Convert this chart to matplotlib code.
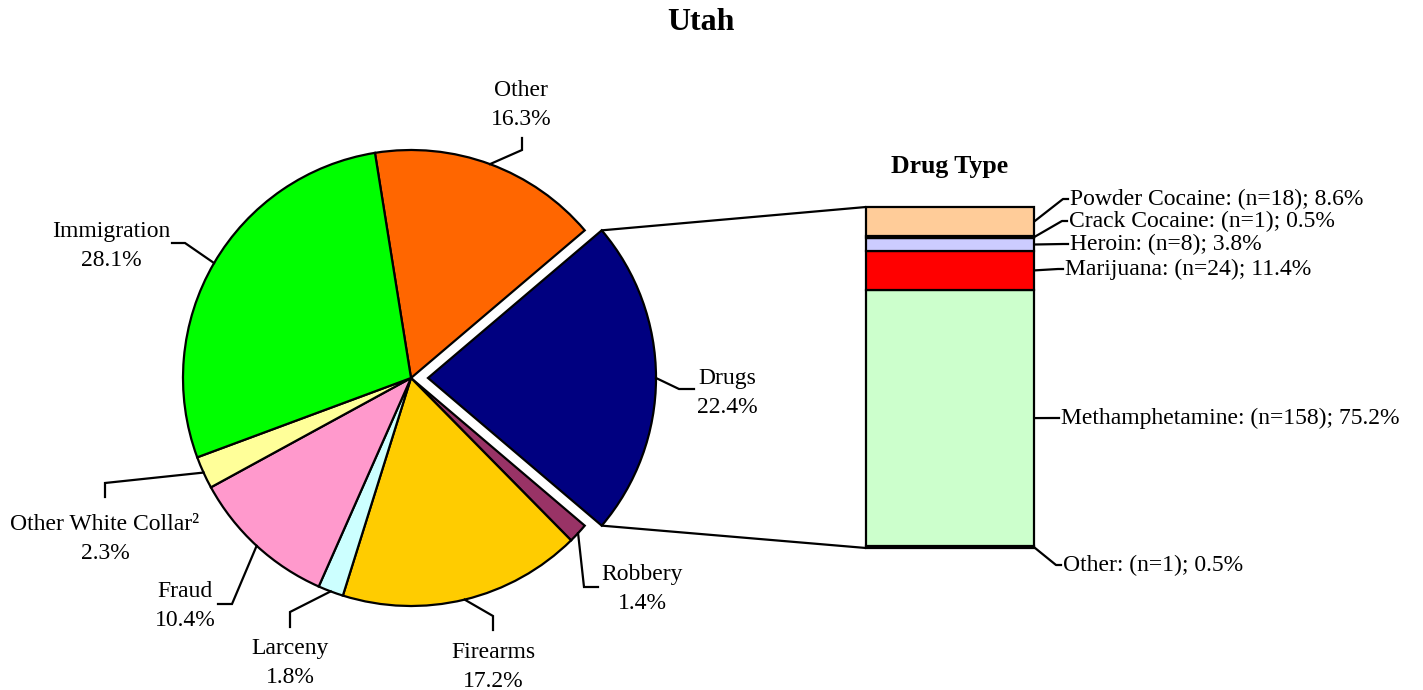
import numpy as np
import matplotlib
matplotlib.use("Agg")
import matplotlib.pyplot as plt
from matplotlib.patches import ConnectionPatch

# ---------------- data ----------------
pie_labels = ["Other", "Drugs", "Robbery", "Firearms", "Larceny", "Fraud",
              "Other White Collar²", "Immigration"]
pie_values = [16.3, 22.4, 1.4, 17.2, 1.8, 10.4, 2.3, 28.1]
pie_colors = ["#FF6600", "#000080", "#993366", "#FFCC00", "#CCFFFF", "#FF99CC",
              "#FFFF99", "#00FF00"]

drug_labels = ["Other", "Methamphetamine", "Marijuana", "Heroin", "Crack Cocaine",
               "Powder Cocaine"]
drug_counts = [1, 158, 24, 8, 1, 18]
drug_pcts = [0.5, 75.2, 11.4, 3.8, 0.5, 8.6]
drug_colors = ["#000000", "#CCFFCC", "#FF0000", "#CCCCFF", "#000000", "#FFCC99"]

# ---------------- layout ----------------
W, H = 1423, 690
plt.rcParams['font.family'] = ['Liberation Serif', 'DejaVu Serif']
FS = 17

fig = plt.figure(figsize=(W / 100, H / 100), dpi=100)
ax = fig.add_axes([0, 0, 1, 1])


def py(y):
    return H - y


cx, cy, R = 411, py(378), 228
start = 99.1
explode = [0, 17, 0, 0, 0, 0, 0, 0]
wedges, _ = ax.pie(pie_values, colors=pie_colors, startangle=start, counterclock=False,
                   center=(cx, cy), radius=R, explode=explode,
                   wedgeprops=dict(edgecolor="black", linewidth=1.6))
ax.set_xlim(0, W)
ax.set_ylim(0, H)
ax.set_aspect("equal")
ax.axis("off")

# label layout (pixel coords from top): text centre, elbow, end
label_layout = {
    "Other": ((521, 105), (522, 150), (522, 138)),
    "Drugs": ((727, 393), (679, 389), (694, 389)),
    "Robbery": ((642, 589), (584, 587), (598, 587)),
    "Firearms": ((493, 667), (493, 616), (493, 630)),
    "Larceny": ((290, 663), (290, 612), (290, 627)),
    "Fraud": ((185, 606), (232, 604), (218, 604)),
    "Other White Collar²": ((105, 539), (105, 483), (105, 497)),
    "Immigration": ((111, 246), (185, 243), (172, 243)),
}

total = sum(pie_values)
ang = start
for w, lab, val, ex in zip(wedges, pie_labels, pie_values, explode):
    span = 360 * val / total
    mid = np.deg2rad(ang - span / 2)
    ang -= span
    ox, oy = w.center
    sx, sy = ox + R * np.cos(mid), oy + R * np.sin(mid)
    (tx, ty), (ex_, ey), (nx, ny) = label_layout[lab]
    ax.plot([sx, ex_, nx], [sy, py(ey), py(ny)], color="black", lw=1.6,
            solid_joinstyle="miter")
    ax.text(tx, py(ty), f"{lab}\n{val:.1f}%", ha="center", va="center",
            fontsize=FS, linespacing=1.5)

# ---------------- stacked bar ----------------
bx0, bx1, by0, by1 = 866, 1034, 548, 207
bax = fig.add_axes([bx0 / W, py(by0) / H, (bx1 - bx0) / W, (by0 - by1) / H])
bax.set_xlim(-0.5, 0.5)
bax.set_ylim(0, sum(drug_pcts))
bax.axis("off")
bottoms = np.concatenate([[0], np.cumsum(drug_pcts)[:-1]])
bars = bax.bar([0] * len(drug_pcts), drug_pcts, bottom=bottoms, width=1.0,
               color=drug_colors, edgecolor="black", linewidth=1.6, clip_on=False)

bax.text(0.5, 1.0 + 41 / 341, "Drug Type", transform=bax.transAxes, ha="center",
         va="center", fontsize=18.5, fontweight="bold")

# connection lines from the exploded wedge to the bar
dw = wedges[1]
theta1, theta2 = np.deg2rad(dw.theta1), np.deg2rad(dw.theta2)
dcx, dcy = dw.center
p_top = (dcx + R * np.cos(theta2), dcy + R * np.sin(theta2))
p_bot = (dcx + R * np.cos(theta1), dcy + R * np.sin(theta1))
for p, yb in [(p_top, sum(drug_pcts)), (p_bot, 0)]:
    con = ConnectionPatch(xyA=p, coordsA=ax.transData, xyB=(-0.5, yb),
                          coordsB=bax.transData, color="black", lw=1.6)
    fig.add_artist(con)

# bar labels: text left/centre position (pixels from top)
bar_text_pos = {
    "Powder Cocaine": (1070, 199),
    "Crack Cocaine": (1069, 221),
    "Heroin": (1070, 244),
    "Marijuana": (1065, 269),
    "Methamphetamine": (1061, 418),
    "Other": (1063, 565),
}
to_main = bax.transData + ax.transData.inverted()
for lab, n, pct, b in zip(drug_labels, drug_counts, drug_pcts, bottoms):
    sx, sy = to_main.transform((0.5, b + pct / 2))
    tx, ty = bar_text_pos[lab]
    ax.plot([sx, tx - 7, tx - 2], [sy, py(ty), py(ty)], color="black", lw=1.6)
    ax.text(tx, py(ty), f"{lab}: (n={n}); {pct:.1f}%", ha="left", va="center",
            fontsize=FS)

fig.text(701 / W, 1 - 22 / H, "Utah", ha="center", va="center", fontsize=23,
         fontweight="bold")

fig.savefig("out.png", dpi=100)
